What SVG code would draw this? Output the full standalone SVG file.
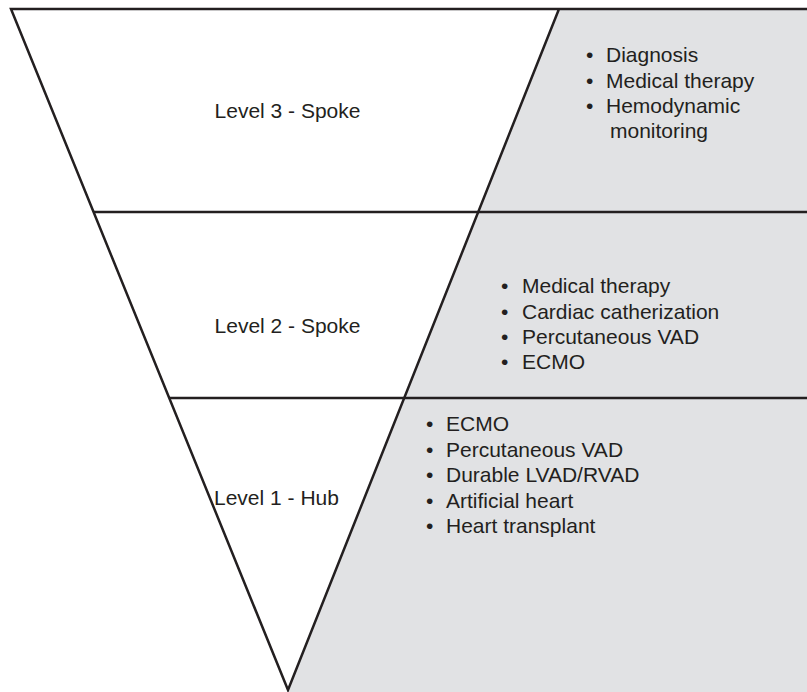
<svg xmlns="http://www.w3.org/2000/svg" width="807" height="692" viewBox="0 0 807 692">
<style>
.ln{stroke:#231f20;stroke-width:2.5;fill:none;stroke-linejoin:miter}
.t{font-family:"Liberation Sans",Arial,sans-serif;font-size:21px;fill:#231f20}
.c{text-anchor:middle}
</style>
<rect x="0" y="0" width="807" height="692" fill="#ffffff"/>
<polygon points="559,9 807,9 807,692 287,692" fill="#e1e2e4"/>
<g id="connectors">
<polyline class="ln" points="807,9 11,9 288,690 559,9"/>
<line class="ln" x1="93" y1="212" x2="807" y2="212"/>
<line class="ln" x1="169" y1="398" x2="807" y2="398"/>
</g>
<g id="level3">
<text class="t c" x="287.5" y="118">Level 3 - Spoke</text>
</g>
<g id="level2">
<text class="t c" x="287.5" y="333">Level 2 - Spoke</text>
</g>
<g id="level1">
<text class="t" x="214" y="505">Level 1 - Hub</text>
</g>
<g id="list3">
<text class="t" x="586" y="62">•</text><text class="t" x="606" y="62">Diagnosis</text>
<text class="t" x="586" y="88">•</text><text class="t" x="606" y="88">Medical therapy</text>
<text class="t" x="586" y="113">•</text><text class="t" x="606" y="113">Hemodynamic</text>
<text class="t" x="610" y="138">monitoring</text>
</g>
<g id="list2">
<text class="t" x="501" y="293">•</text><text class="t" x="522" y="293">Medical therapy</text>
<text class="t" x="501" y="318.5">•</text><text class="t" x="522" y="318.5">Cardiac catherization</text>
<text class="t" x="501" y="343.5">•</text><text class="t" x="522" y="343.5">Percutaneous VAD</text>
<text class="t" x="501" y="368.5">•</text><text class="t" x="522" y="368.5">ECMO</text>
</g>
<g id="list1">
<text class="t" x="426" y="431">•</text><text class="t" x="446" y="431">ECMO</text>
<text class="t" x="426" y="456.5">•</text><text class="t" x="446" y="456.5">Percutaneous VAD</text>
<text class="t" x="426" y="482">•</text><text class="t" x="446" y="482">Durable LVAD/RVAD</text>
<text class="t" x="426" y="507.5">•</text><text class="t" x="446" y="507.5">Artificial heart</text>
<text class="t" x="426" y="533">•</text><text class="t" x="446" y="533">Heart transplant</text>
</g>
</svg>
